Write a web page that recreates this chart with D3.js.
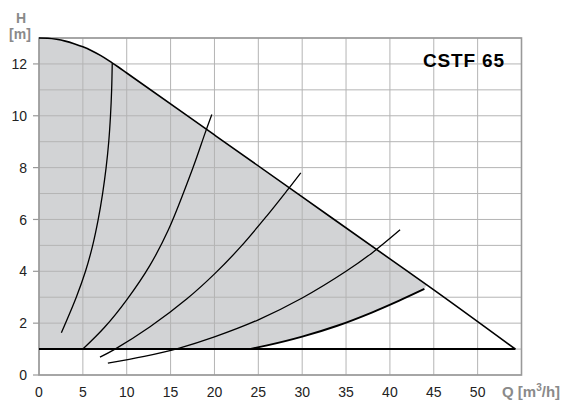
<!DOCTYPE html>
<html>
<head>
<meta charset="utf-8">
<script src="https://cdn.jsdelivr.net/npm/d3@7"></script>
<style>
  body { margin: 0; background: #fff; }
  text { font-family: "Liberation Sans", Arial, sans-serif; }
</style>
</head>
<body>
<script>
// pump curve CSTF 65, H [m] over Q [m3/h]

var qTicks = [0, 5, 10, 15, 20, 25, 30, 35, 40, 45, 50];
var hTicks = [0, 2, 4, 6, 8, 10, 12];
var qGrid = [0, 5, 10, 15, 20, 25, 30, 35, 40, 45, 50, 55];
var hGrid = [0, 1, 2, 3, 4, 5, 6, 7, 8, 9, 10, 11, 12, 13];

// max speed curve
var maxCurve = [[0, 13], [1, 12.99], [2, 12.95], [3, 12.88], [4, 12.78], [5, 12.66],
  [6, 12.51], [7, 12.33], [8, 12.12], [9, 11.89], [10, 11.65], [20, 9.26],
  [30, 6.87], [40, 4.48], [44.2, 3.48], [54.3, 1.0]];
// min speed curve
var minCurve = [[24.0, 1.0], [26, 1.14], [30, 1.48], [34, 1.9], [38, 2.42],
  [41, 2.86], [43.93, 3.32]];
// H = 1 m line
var baseLine = [[0, 1], [54.3, 1]];

// system curves
var sys1 = [[2.55, 1.63], [4.25, 3], [5.3, 4], [6.12, 5], [6.75, 6], [7.25, 7],
  [7.65, 8], [7.95, 9], [8.15, 10], [8.28, 11], [8.35, 12.03]];
var sys2 = [[5.0, 1.0], [7.5, 1.85], [10, 2.9], [12.66, 4.24], [14.75, 5.6],
  [17.6, 8.04], [18.93, 9.33], [19.7, 10.05]];
var sys3 = [[6.95, 0.69], [8.67, 1.0], [12.66, 1.86], [16.9, 2.95], [20.07, 3.92],
  [23, 4.95], [26, 6.15], [28.24, 7.1], [29.84, 7.8]];
var sys4 = [[7.85, 0.46], [12, 0.72], [16, 1.04], [20, 1.47], [25, 2.13],
  [30, 2.97], [35, 4.0], [38, 4.72], [41.16, 5.6]];

var margin = {left: 39, right: 44.5, top: 38, bottom: 25};
var width = 566 - margin.left - margin.right;
var height = 400 - margin.top - margin.bottom;

var svg = d3.select("body")
  .append("svg")
  .attr("width", 566)
  .attr("height", 400);

var g = svg.append("g")
  .attr("transform", "translate(" + margin.left + "," + margin.top + ")");

var x = d3.scaleLinear().domain([0, 55]).range([0, width]);
var y = d3.scaleLinear().domain([0, 13]).range([height, 0]);

var line = d3.line()
  .x(function(d) { return x(d[0]); })
  .y(function(d) { return y(d[1]); })
  .curve(d3.curveMonotoneX);

var smooth = d3.line()
  .x(function(d) { return x(d[0]); })
  .y(function(d) { return y(d[1]); })
  .curve(d3.curveCatmullRom.alpha(0.5));

var polyLine = d3.line()
  .x(function(d) { return x(d[0]); })
  .y(function(d) { return y(d[1]); });

// shaded operating area
var topEdge = maxCurve.filter(function(d) { return d[0] <= 44.2; });
g.append("path")
  .attr("d", line(topEdge) + "L" + smooth(minCurve.slice().reverse()).slice(1) +
    "L" + x(0) + "," + y(1) + "Z")
  .attr("fill", "#d2d3d5");

// grid
g.selectAll(".vgrid")
  .data(qGrid)
  .enter()
  .append("line")
  .attr("class", "vgrid")
  .attr("x1", function(d) { return x(d); })
  .attr("x2", function(d) { return x(d); })
  .attr("y1", 0)
  .attr("y2", height)
  .attr("stroke", "#b4b4b4")
  .attr("stroke-width", 1);

g.selectAll(".hgrid")
  .data(hGrid)
  .enter()
  .append("line")
  .attr("class", "hgrid")
  .attr("x1", 0)
  .attr("x2", width)
  .attr("y1", function(d) { return y(d); })
  .attr("y2", function(d) { return y(d); })
  .attr("stroke", "#b4b4b4")
  .attr("stroke-width", 1);

// left ticks
g.selectAll(".ytick")
  .data(hTicks)
  .enter()
  .append("line")
  .attr("x1", -6)
  .attr("x2", 0)
  .attr("y1", function(d) { return y(d); })
  .attr("y2", function(d) { return y(d); })
  .attr("stroke", "#999")
  .attr("stroke-width", 1.2);

// frame
g.append("rect")
  .attr("width", width)
  .attr("height", height)
  .attr("fill", "none")
  .attr("stroke", "#999")
  .attr("stroke-width", 1.6);

// curves
[sys1, sys2, sys3, sys4].forEach(function(s) {
  g.append("path")
    .attr("d", smooth(s))
    .attr("fill", "none")
    .attr("stroke", "#000")
    .attr("stroke-width", 1.3);
});

g.append("path")
  .attr("d", polyLine(baseLine))
  .attr("fill", "none")
  .attr("stroke", "#000")
  .attr("stroke-width", 2);

g.append("path")
  .attr("d", smooth(minCurve))
  .attr("fill", "none")
  .attr("stroke", "#000")
  .attr("stroke-width", 1.9);

g.append("path")
  .attr("d", line(maxCurve))
  .attr("fill", "none")
  .attr("stroke", "#000")
  .attr("stroke-width", 1.6);

// tick labels
g.selectAll(".xlab")
  .data(qTicks)
  .enter()
  .append("text")
  .attr("x", function(d) { return x(d); })
  .attr("y", height + 22)
  .attr("text-anchor", "middle")
  .attr("font-size", "14px")
  .attr("fill", "#222")
  .text(function(d) { return d; });

g.selectAll(".ylab")
  .data(hTicks)
  .enter()
  .append("text")
  .attr("x", -12)
  .attr("y", function(d) { return y(d); })
  .attr("dy", "0.36em")
  .attr("text-anchor", "end")
  .attr("font-size", "14px")
  .attr("fill", "#222")
  .text(function(d) { return d; });

// axis labels
svg.append("text")
  .attr("x", 21)
  .attr("y", 23)
  .attr("text-anchor", "middle")
  .attr("font-size", "14px")
  .attr("font-weight", "bold")
  .attr("fill", "#8a8a8a")
  .text("H");

svg.append("text")
  .attr("x", 20)
  .attr("y", 39)
  .attr("text-anchor", "middle")
  .attr("font-size", "14px")
  .attr("font-weight", "bold")
  .attr("fill", "#8a8a8a")
  .text("[m]");

var qLab = svg.append("text")
  .attr("x", 502)
  .attr("y", 397)
  .attr("font-size", "15px")
  .attr("font-weight", "bold")
  .attr("fill", "#8a8a8a");
qLab.append("tspan").text("Q [m");
qLab.append("tspan").attr("dy", -6).attr("font-size", "10px").text("3");
qLab.append("tspan").attr("dy", 6).text("/h]");

// title
svg.append("text")
  .attr("x", 423)
  .attr("y", 67)
  .attr("font-family", "'Open Sans', sans-serif")
  .attr("font-size", "19px")
  .attr("font-weight", "bold")
  .attr("fill", "#000")
  .attr("textLength", 81)
  .attr("lengthAdjust", "spacing")
  .text("CSTF 65");
</script>
</body>
</html>
